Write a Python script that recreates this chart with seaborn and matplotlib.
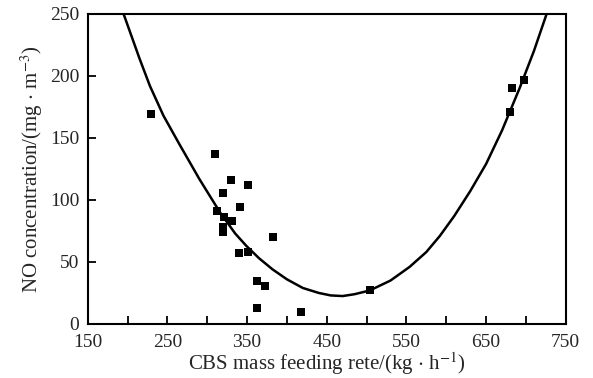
import numpy as np
import pandas as pd
import matplotlib
matplotlib.use("Agg")
import matplotlib.pyplot as plt
import seaborn as sns

feed_rate = [230, 310, 330, 351, 320, 341, 312, 321, 331, 320, 320, 382,
             340, 351, 362, 372, 362, 418, 504, 698, 682, 680]
no_conc = [169, 137, 116, 112, 106, 94, 91, 86, 83, 78, 74, 70,
           57, 58, 35, 31, 13, 10, 27, 197, 190, 171]

# fitted curve
curve_x = [195, 205, 215, 228, 245, 265, 290, 316, 335, 349, 365, 382, 400,
           420, 440, 455, 470, 485, 504, 530, 554, 575, 592, 610, 630, 650,
           670, 692, 710, 726]
curve_y = [250, 232, 214, 192, 168, 145, 117, 90, 73, 63, 53, 44, 36,
           29, 25, 23, 22.5, 24, 27, 35, 46, 58, 71, 87, 107, 129,
           156, 190, 220, 250]

x_ticks = [150, 250, 350, 450, 550, 650, 750]
y_ticks = [0, 50, 100, 150, 200, 250]

sns.set_style("white")
plt.rcParams['font.family'] = ['Liberation Serif', 'DejaVu Serif']
plt.rcParams['mathtext.fontset'] = 'stix'

pts = pd.DataFrame({"x": feed_rate, "y": no_conc})
fit = pd.DataFrame({"x": curve_x, "y": curve_y})

fig, ax = plt.subplots(figsize=(5.93, 3.78), dpi=100)
fig.subplots_adjust(left=0.148, right=0.954, top=0.963, bottom=0.143)

sns.lineplot(data=fit, x="x", y="y", ax=ax, color="black", linewidth=1.8,
             sort=False)
sns.scatterplot(data=pts, x="x", y="y", ax=ax, marker="s", s=32,
                color="black", edgecolor="black", linewidth=0, zorder=3)

ax.set_xlim(150, 750)
ax.set_ylim(0, 250)
ax.set_xticks(x_ticks)
ax.set_xticks(np.arange(200, 750, 100), minor=True)
ax.set_yticks(y_ticks)
ax.tick_params(axis="both", which="both", direction="in", length=6,
               width=1.3, color="black", labelsize=14, bottom=True, left=True,
               top=False, right=False)
ax.tick_params(axis="y", pad=6)
ax.tick_params(axis="x", pad=7)
for s in ax.spines.values():
    s.set_linewidth(1.5)
    s.set_color("black")

ax.set_xlabel(r"CBS mass feeding rete/(kg $\cdot$ h$^{-1}$)", fontsize=15, labelpad=0)
ax.set_ylabel(r"NO concentration/(mg $\cdot$ m$^{-3}$)", fontsize=15, labelpad=4)

fig.savefig("out.png", dpi=100)
